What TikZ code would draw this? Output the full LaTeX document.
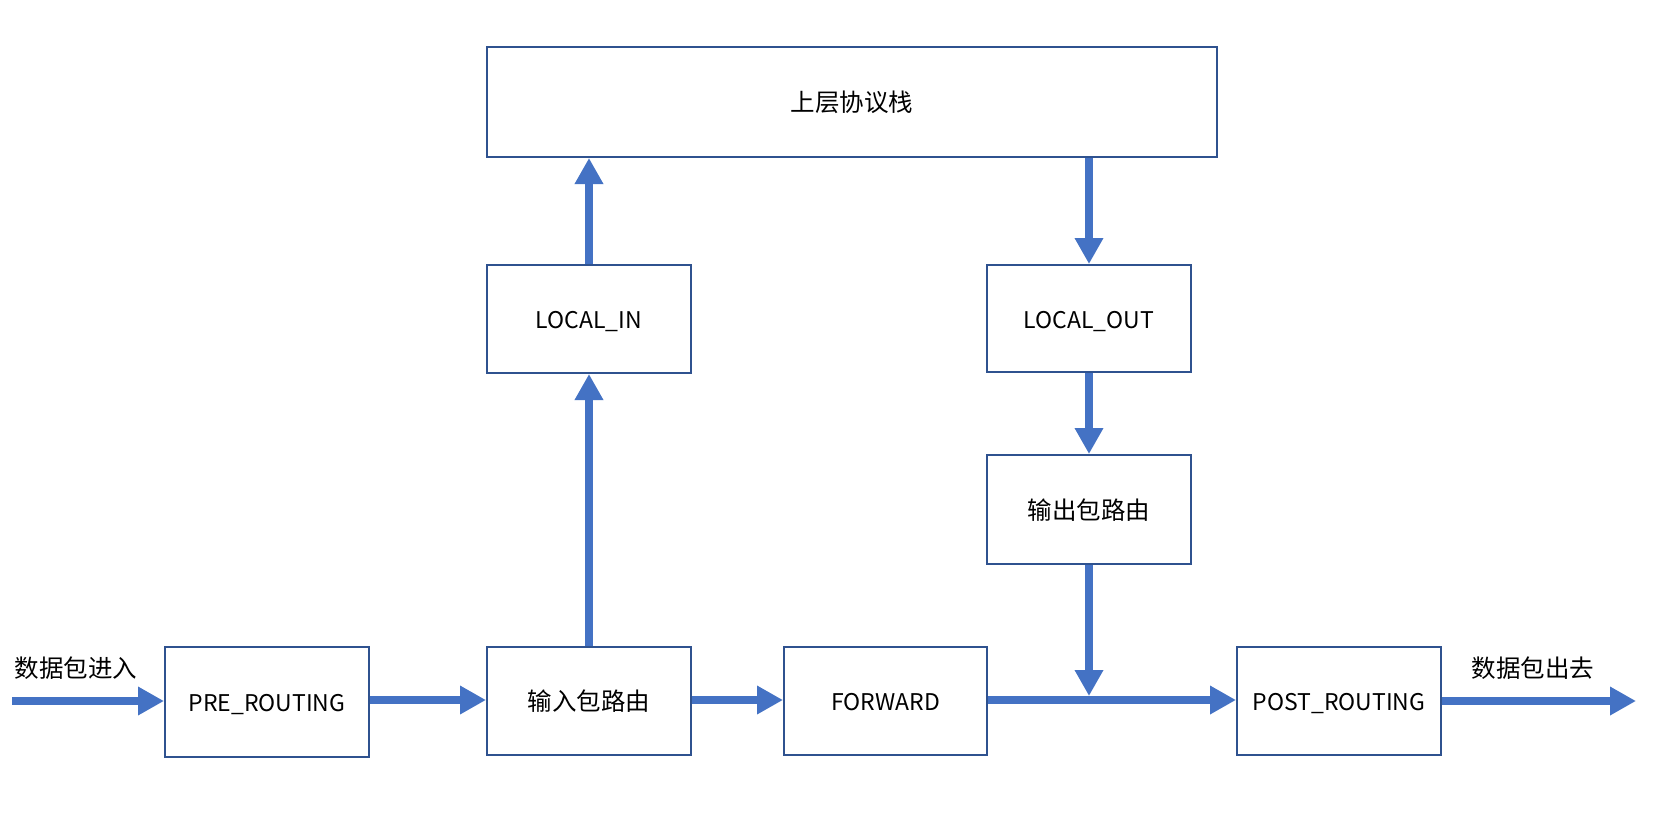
\documentclass[tikz,border=0pt]{standalone}
\usepackage{fontspec}
\setmainfont{Noto Sans CJK SC}
\usetikzlibrary{arrows.meta}
\definecolor{boxline}{HTML}{2F528F}
\definecolor{arrowblue}{HTML}{4472C4}
\newcommand{\zh}{\fontsize{24.5}{28}\selectfont}
\begin{document}
\begin{tikzpicture}[x=1pt,y=-1pt,
  box/.style={draw=boxline, line width=2pt, fill=white, inner sep=0pt, text height=19pt, text depth=0pt, font=\fontsize{23}{27}\selectfont},
  flow/.style={draw=arrowblue, line width=8pt, -{Triangle[length=26pt,width=27pt]}},
  lbl/.style={font=\zh, inner sep=0pt, text height=19pt, text depth=0pt}]
\useasboundingbox[fill=white] (0,0) rectangle (1660,836);
\node[box, minimum width=730pt, minimum height=110pt] (stack) at (852,102) {\zh 上层协议栈};
\node[box, minimum width=204pt, minimum height=108pt] (lin) at (589,319) {LOCAL\_IN};
\node[box, minimum width=204pt, minimum height=107pt] (lout) at (1089,318.5) {LOCAL\_OUT};
\node[box, minimum width=204pt, minimum height=109pt] (oroute) at (1089,509.5) {\zh 输出包路由};
\node[box, minimum width=204pt, minimum height=110pt] (pre) at (267,702) {PRE\_ROUTING};
\node[box, minimum width=204pt, minimum height=108pt] (iroute) at (589,701) {\zh 输入包路由};
\node[box, minimum width=203pt, minimum height=108pt] (fwd) at (885.5,701) {FORWARD};
\node[box, minimum width=204pt, minimum height=108pt] (post) at (1339,701) {POST\_ROUTING};
\node[lbl] (inlbl) at (76,668) {数据包进入};
\node[lbl] (outlbl) at (1533,668) {数据包出去};
\coordinate (start) at (12,701);
\coordinate (finish) at (1636,701);
\coordinate (junc) at (1089,696);
\draw[flow] (start) -- (pre.west |- start);
\draw[flow] (pre.east |- 0,700) -- (iroute.west |- 0,700);
\draw[flow] (iroute.east |- 0,700) -- (fwd.west |- 0,700);
\draw[flow] (fwd.east |- 0,700) -- (post.west |- 0,700);
\draw[flow] (post.east |- finish) -- (finish);
\draw[flow] (iroute.north) -- (lin.south);
\draw[flow] (lin.north) -- (lin.north |- stack.south);
\draw[flow] (stack.south -| lout.north) -- (lout.north);
\draw[flow] (lout.south) -- (oroute.north);
\draw[flow] (oroute.south) -- (junc);
\end{tikzpicture}
\end{document}
